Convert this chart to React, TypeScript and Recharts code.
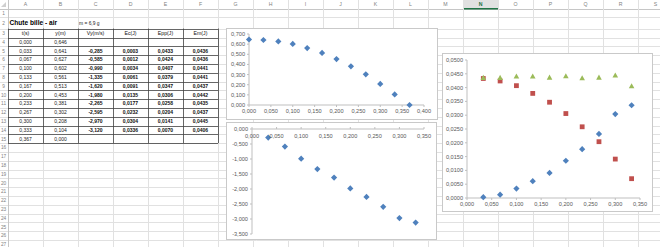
import React from 'react';
import { ScatterChart, Scatter, XAxis, YAxis, ZAxis } from 'recharts';

// ---------- data ----------
const times = [0.0, 0.033, 0.067, 0.1, 0.133, 0.167, 0.2, 0.233, 0.267, 0.3, 0.333, 0.367];
const positions = [0.646, 0.641, 0.627, 0.602, 0.561, 0.513, 0.453, 0.381, 0.302, 0.208, 0.104, 0.0];
const velocities = [-0.285, -0.585, -0.99, -1.335, -1.62, -1.98, -2.265, -2.595, -2.97, -3.12];
const kineticEnergy = [0.0003, 0.0012, 0.0034, 0.0061, 0.0091, 0.0135, 0.0177, 0.0232, 0.0304, 0.0336];
const potentialEnergy = [0.0433, 0.0424, 0.0407, 0.0379, 0.0347, 0.0306, 0.0258, 0.0204, 0.0141, 0.007];
const mechanicalEnergy = [0.0436, 0.0436, 0.0441, 0.0441, 0.0437, 0.0442, 0.0435, 0.0437, 0.0445, 0.0406];

const tableHeaders = ['t(s)', 'y(m)', 'Vy(m/s)', 'Ec(J)', 'Epp(J)', 'Em(J)'];
const columnLetters = ['A', 'B', 'C', 'D', 'E', 'F', 'G', 'H', 'I', 'J', 'K', 'L', 'M', 'N', 'O', 'P', 'Q', 'R', 'S'];
const sheetTitle = 'Chute bille - air';
const massNote = 'm = 6,9 g';

const posTicksX = [0, 0.05, 0.1, 0.15, 0.2, 0.25, 0.3, 0.35, 0.4];
const posTicksY = [0, 0.1, 0.2, 0.3, 0.4, 0.5, 0.6, 0.7];
const velTicksX = [0, 0.05, 0.1, 0.15, 0.2, 0.25, 0.3, 0.35];
const velTicksY = [-3.5, -3, -2.5, -2, -1.5, -1, -0.5, 0];
const energyTicksX = [0, 0.05, 0.1, 0.15, 0.2, 0.25, 0.3, 0.35];
const energyTicksY = [0, 0.005, 0.01, 0.015, 0.02, 0.025, 0.03, 0.035, 0.04, 0.045, 0.05];

// ---------- derived ----------
const midTimes = times.slice(1, 11);
const positionData = times.map((t, i) => ({ x: t, y: positions[i] }));
const velocityData = midTimes.map((t, i) => ({ x: t, y: velocities[i] }));
const ecData = midTimes.map((t, i) => ({ x: t, y: kineticEnergy[i] }));
const eppData = midTimes.map((t, i) => ({ x: t, y: potentialEnergy[i] }));
const emData = midTimes.map((t, i) => ({ x: t, y: mechanicalEnergy[i] }));

const fmt = (v: number, d: number) => {
  const s = Math.abs(v) < 1e-12 ? (0).toFixed(d) : v.toFixed(d);
  return s.replace('.', ',');
};

const BLUE = '#4F81BD';
const RED = '#C0504D';
const GREEN = '#9BBB59';
const AXIS = '#bfbfbf';
const FONT = 'Liberation Sans, Arial, sans-serif';
const tickStyle = { fontSize: 5.6, fill: '#595959', fontFamily: FONT };

const Diamond = (p: any) => {
  const { cx, cy } = p;
  const r = 3.1;
  return <path d={`M${cx},${cy - r}L${cx + r},${cy}L${cx},${cy + r}L${cx - r},${cy}Z`} fill={BLUE} />;
};
const Square = (p: any) => {
  const { cx, cy } = p;
  const h = 2.4;
  return <rect x={cx - h} y={cy - h} width={h * 2} height={h * 2} fill={RED} />;
};
const Triangle = (p: any) => {
  const { cx, cy } = p;
  const h = 2.8;
  return <path d={`M${cx},${cy - h}L${cx + h},${cy + h * 0.8}L${cx - h},${cy + h * 0.8}Z`} fill={GREEN} />;
};

// tick for the velocity chart: x axis sits at the top (y = 0) with labels drawn below the line
const BelowTopTick = (p: any) => {
  const { x, y, payload } = p;
  const axisY = y + 4; // tickSize + tickMargin
  return (
    <text x={x} y={axisY + 8.5} textAnchor="middle" fontSize={5.6} fill="#595959" fontFamily={FONT}>
      {fmt(payload.value, 3)}
    </text>
  );
};

// ---------- sheet geometry ----------
const colLeft = (i: number) => 8 + 35 * i;
const rowTop = (r: number) => (r <= 1 ? 9 : r === 2 ? 17 : r === 3 ? 28.5 : 37.5 + (r - 4) * 8.8);
const rowMid = (r: number) => (rowTop(r) + rowTop(r + 1)) / 2;

const Sheet = () => {
  const els: any[] = [];
  for (let r = 1; r <= 28; r++) {
    const y = Math.round(rowTop(r)) + 0.5;
    els.push(<line key={'h' + r} x1={0} x2={660} y1={y} y2={y} stroke={r === 1 ? '#c6c6c6' : '#e1e1e1'} />);
  }
  for (let i = 0; i <= 19; i++) {
    const x = Math.round(colLeft(i)) + 0.5;
    els.push(<line key={'v' + i} x1={x} x2={x} y1={0} y2={247} stroke={i === 0 ? '#c6c6c6' : '#e1e1e1'} />);
  }
  els.push(<rect key="nsel" x={colLeft(13) + 1} y={0} width={34} height={9} fill="#e1e1e1" />);
  els.push(<rect key="nbar" x={colLeft(13) + 1} y={8} width={34} height={1.5} fill="#217346" />);
  columnLetters.forEach((c, i) => {
    els.push(
      <text key={'c' + c} x={colLeft(i) + 17.5} y={6.3} textAnchor="middle" fontSize={5.2}
        fill={i === 13 ? '#217346' : '#7f7f7f'} fontWeight={i === 13 ? 700 : 400}>{c}</text>
    );
  });
  els.push(<path key="corner" d="M6,2L6,7L1,7Z" fill="#d0d0d0" />);
  for (let r = 1; r <= 27; r++) {
    els.push(
      <text key={'r' + r} x={3.6} y={rowMid(r) + 1.8} textAnchor="middle" fontSize={4.8} fill="#7f7f7f">{r}</text>
    );
  }
  els.push(<text key="title" x={9.5} y={rowMid(2) + 2.4} fontSize={6.6} fontWeight={700} fill="#000">{sheetTitle}</text>);
  els.push(<text key="mass" x={79} y={rowMid(2) + 1.8} fontSize={4.9} fill="#222">{massNote}</text>);
  els.push(<rect key="tbg" x={colLeft(0)} y={rowTop(3)} width={35 * 6} height={rowTop(16) - rowTop(3)} fill="#fff" />);
  for (let r = 3; r <= 16; r++) {
    const y = Math.round(rowTop(r)) + 0.5;
    els.push(<line key={'th' + r} x1={colLeft(0)} x2={colLeft(6)} y1={y} y2={y} stroke="#404040" strokeWidth={0.8} />);
  }
  for (let i = 0; i <= 6; i++) {
    const x = Math.round(colLeft(i)) + 0.5;
    els.push(<line key={'tv' + i} x1={x} x2={x} y1={rowTop(3)} y2={rowTop(16)} stroke="#404040" strokeWidth={0.8} />);
  }
  tableHeaders.forEach((h, i) => {
    els.push(<text key={'hd' + i} x={colLeft(i) + 17.5} y={rowMid(3) + 1.9} textAnchor="middle" fontSize={5.2} fill="#111">{h}</text>);
  });
  times.forEach((t, k) => {
    const r = 4 + k;
    const y = rowMid(r) + 1.8;
    els.push(<text key={'a' + k} x={colLeft(0) + 17.5} y={y} textAnchor="middle" fontSize={5} fill="#222">{fmt(t, 3)}</text>);
    els.push(<text key={'b' + k} x={colLeft(1) + 17.5} y={y} textAnchor="middle" fontSize={5} fill="#222">{fmt(positions[k], 3)}</text>);
    if (k >= 1 && k <= 10) {
      const j = k - 1;
      const vals = [fmt(velocities[j], 3), fmt(kineticEnergy[j], 4), fmt(potentialEnergy[j], 4), fmt(mechanicalEnergy[j], 4)];
      vals.forEach((v, m) => {
        els.push(<text key={'d' + k + '_' + m} x={colLeft(2 + m) + 17.5} y={y} textAnchor="middle" fontSize={5} fontWeight={700} fill="#111">{v}</text>);
      });
    }
  });
  return (
    <svg width={660} height={247} style={{ position: 'absolute', left: 0, top: 0, fontFamily: FONT }}>
      {els}
    </svg>
  );
};

const Frame = ({ left, top, width, height, children }: any) => (
  <div style={{ position: 'absolute', left, top, width, height, boxSizing: 'border-box', border: '1px solid #c9c9c9', background: '#fff' }}>
    {children}
  </div>
);

export default function App() {
  return (
    <div style={{ position: 'absolute', left: 0, top: 0, width: 660, height: 247, background: '#fff', overflow: 'hidden', fontFamily: FONT }}>
      <Sheet />
      {/* position chart */}
      <Frame left={226} top={28} width={212} height={92}>
        <ScatterChart width={210} height={90} margin={{ top: 5, right: 13, bottom: 0, left: 0 }}>
          <XAxis type="number" dataKey="x" domain={[0, 0.4]} ticks={posTicksX} interval={0} height={14}
            tickFormatter={(v: number) => fmt(v, 3)} tick={tickStyle} tickSize={2} tickMargin={2}
            axisLine={{ stroke: AXIS }} tickLine={{ stroke: AXIS }} />
          <YAxis type="number" dataKey="y" domain={[0, 0.7]} ticks={posTicksY} interval={0} width={22}
            tickFormatter={(v: number) => fmt(v, 3)} tick={tickStyle} tickSize={2} tickMargin={2}
            axisLine={{ stroke: AXIS }} tickLine={{ stroke: AXIS }} />
          <ZAxis range={[30, 30]} />
          <Scatter data={positionData} fill={BLUE} shape={Diamond} isAnimationActive={false} />
        </ScatterChart>
      </Frame>
      {/* velocity chart */}
      <Frame left={226} top={122} width={211} height={118}>
        <ScatterChart width={209} height={116} margin={{ top: 0, right: 12, bottom: 5, left: 0 }}>
          <XAxis type="number" dataKey="x" orientation="top" domain={[0, 0.35]} ticks={velTicksX} interval={0} height={6}
            tick={BelowTopTick} tickSize={2} tickMargin={2}
            axisLine={{ stroke: AXIS }} tickLine={{ stroke: AXIS }} />
          <YAxis type="number" dataKey="y" domain={[-3.5, 0]} ticks={velTicksY} interval={0} width={25}
            tickFormatter={(v: number) => fmt(v, 3)} tick={tickStyle} tickSize={2} tickMargin={2}
            axisLine={{ stroke: AXIS }} tickLine={{ stroke: AXIS }} />
          <ZAxis range={[30, 30]} />
          <Scatter data={velocityData} fill={BLUE} shape={Diamond} isAnimationActive={false} />
        </ScatterChart>
      </Frame>
      {/* energy chart */}
      <Frame left={442} top={53} width={211} height={159}>
        <ScatterChart width={209} height={157} margin={{ top: 6, right: 12, bottom: 0, left: 0 }}>
          <XAxis type="number" dataKey="x" domain={[0, 0.35]} ticks={energyTicksX} interval={0} height={13}
            tickFormatter={(v: number) => fmt(v, 3)} tick={tickStyle} tickSize={2} tickMargin={2}
            axisLine={{ stroke: AXIS }} tickLine={{ stroke: AXIS }} />
          <YAxis type="number" dataKey="y" domain={[0, 0.05]} ticks={energyTicksY} interval={0} width={24}
            tickFormatter={(v: number) => fmt(v, 4)} tick={tickStyle} tickSize={2} tickMargin={2}
            axisLine={{ stroke: AXIS }} tickLine={{ stroke: AXIS }} />
          <ZAxis range={[30, 30]} />
          <Scatter name="Ec" data={ecData} fill={BLUE} shape={Diamond} isAnimationActive={false} />
          <Scatter name="Epp" data={eppData} fill={RED} shape={Square} isAnimationActive={false} />
          <Scatter name="Em" data={emData} fill={GREEN} shape={Triangle} isAnimationActive={false} />
        </ScatterChart>
      </Frame>
    </div>
  );
}
